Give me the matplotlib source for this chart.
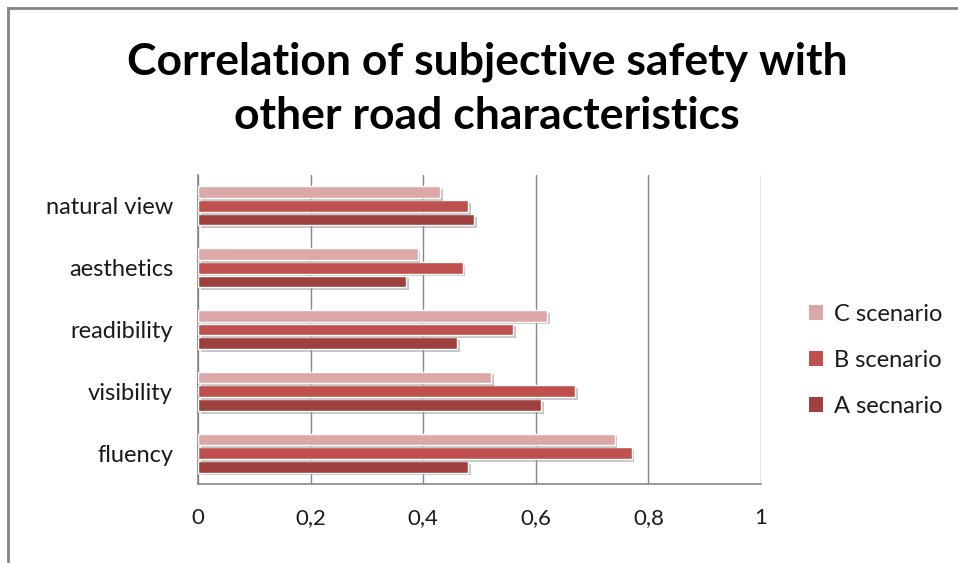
import numpy as np
import matplotlib
matplotlib.use('Agg')
import matplotlib.pyplot as plt
import matplotlib.patheffects as pe
from matplotlib.patches import Patch

plt.rcParams['font.family'] = ['Lato', 'DejaVu Sans']

# categories listed bottom -> top as they appear on the axis
categories = ['fluency', 'visibility', 'readibility', 'aesthetics', 'natural view']
a_vals = [0.48, 0.61, 0.46, 0.37, 0.49]
b_vals = [0.77, 0.67, 0.56, 0.47, 0.48]
c_vals = [0.74, 0.52, 0.62, 0.39, 0.43]

series = [
    ('A secnario', a_vals, '#9d403e'),
    ('B scenario', b_vals, '#c0504d'),
    ('C scenario', c_vals, '#dba7a7'),
]

grid_col = '#868686'

fig = plt.figure(figsize=(9.58, 5.63), dpi=100)
ax = fig.add_axes([198/958, 1-484/563, (761-198)/958, (484-175)/563])

y = np.arange(len(categories))
step = 0.222
h = 0.19
shadow = [pe.SimplePatchShadow(offset=(2, -2), shadow_rgbFace='#808080', alpha=0.45), pe.Normal()]
for i, (name, vals, col) in enumerate(series):
    bars = ax.barh(y + (i - 1) * step, vals, height=h, color=col,
                   edgecolor='white', linewidth=1.0, zorder=3)
    for b in bars:
        b.set_path_effects(shadow)

ax.set_xlim(0, 1)
ax.set_ylim(-0.5, len(categories) - 0.5)
ax.set_xticks([0, 0.2, 0.4, 0.6, 0.8, 1])
ax.set_xticklabels(['0', '0,2', '0,4', '0,6', '0,8', '1'], fontsize=16, color='#1a1a1a')
ax.set_yticks(y)
ax.set_yticklabels(categories, fontsize=17, color='#1a1a1a')
ax.tick_params(axis='x', length=0, pad=17)
ax.tick_params(axis='y', length=0, pad=18)
ax.xaxis.grid(True, color=grid_col, linewidth=1.0, zorder=0)
ax.set_axisbelow(True)
for s in ['top', 'right']:
    ax.spines[s].set_visible(False)
for s in ['left', 'bottom']:
    ax.spines[s].set_color(grid_col)
    ax.spines[s].set_linewidth(1.2)

fig.text(487/958, 1-62/563, 'Correlation of subjective safety with', ha='center', va='center',
         fontsize=32, fontweight='bold', color='black')
fig.text(487/958, 1-116/563, 'other road characteristics', ha='center', va='center',
         fontsize=32, fontweight='bold', color='black')

handles = [Patch(facecolor=col, edgecolor='none', label=name) for name, _, col in series[::-1]]
fig.legend(handles=handles, loc='upper left', bbox_to_anchor=(788/958, 1-283/563),
           frameon=False, fontsize=17, handlelength=0.6, handleheight=0.6,
           handletextpad=0.45, labelspacing=1.05, labelcolor='#1a1a1a')

# outer chart frame (left and top edges)
fig.add_artist(plt.Line2D([8/958, 8/958], [0, 1-8/563], color=grid_col, linewidth=2))
fig.add_artist(plt.Line2D([8/958, 1], [1-8/563, 1-8/563], color=grid_col, linewidth=2))

fig.savefig('out.png', dpi=100)
